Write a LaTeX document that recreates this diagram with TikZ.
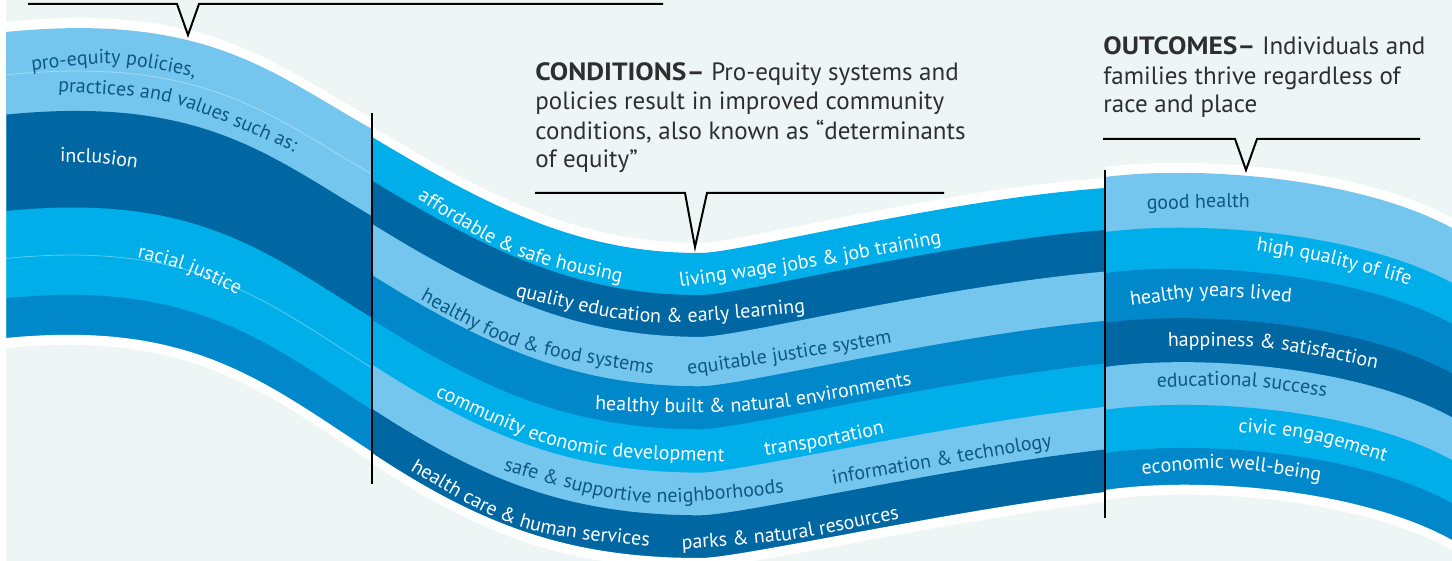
\documentclass[tikz,border=0pt]{standalone}
\usepackage{fontspec}
\setmainfont{PT Sans}
\usetikzlibrary{calc,decorations.text}
\definecolor{bgc}{HTML}{EEF6F5}
\definecolor{cLight}{HTML}{75C6EE}
\definecolor{cBright}{HTML}{00AFEA}
\definecolor{cMed}{HTML}{0088CA}
\definecolor{cDark}{HTML}{0067A2}
\definecolor{txtDark}{HTML}{0E5784}
\definecolor{hdrc}{HTML}{2E2E2E}
\newcommand\lblfont{\fontsize{10}{12}\selectfont}
\newcommand\hdrfont{\fontsize{12.5}{15}\selectfont}
\newcommand\hb[1]{\scalebox{1.1}[1]{\textbf{#1}}}
% boundary curve at fraction #2 between top and bottom of section #1
\newcommand\bndA[2]{($(#1T0)!#2!(#1B0)$) .. controls ($(#1T1)!#2!(#1B1)$) and ($(#1T2)!#2!(#1B2)$) .. ($(#1T3)!#2!(#1B3)$)}
\newcommand\bndB[2]{($(#1T0)!#2!(#1B0)$) .. controls ($(#1T1)!#2!(#1B1)$) and ($(#1T2)!#2!(#1B2)$) .. ($(#1T3)!#2!(#1B3)$) .. controls ($(#1T4)!#2!(#1B4)$) and ($(#1T5)!#2!(#1B5)$) .. ($(#1T6)!#2!(#1B6)$)}
% fill everything below a boundary
\newcommand\stripe[4]{\fill[#3] #1{#2}{#4} -- ++(0,700) -| (#2T0) -- cycle;}
% curved label: colour, start, middle, end, text
\newcommand\lab[5]{%
  \coordinate (lc) at ($1.3333*(#3)-0.16667*(#2)-0.16667*(#4)$);
  \path[decorate,decoration={text along path,text color=#1,text={|\lblfont|#5}}]
    (#2) .. controls (lc) .. (#4) -- ($(#4)!-60pt!(lc)$);}
\begin{document}
\begin{tikzpicture}[x=0.5pt,y=-0.5pt,
  faint/.style={draw=white,opacity=0.35,line width=0.4pt},
  sepline/.style={draw=black,line width=1.3pt},
  callout/.style={draw=black,line width=1pt,line join=miter},
  hdr/.style={anchor=base west,inner sep=0pt,font=\hdrfont,text=hdrc}]
\useasboundingbox (0,0) rectangle (1452,561);
\fill[white] (0,0) rectangle (1452,561);
\fill[bgc] (6,0) rectangle (1452,561);
% ---- section geometry
\coordinate (LT0) at (6,32);   \coordinate (LT1) at (206,12);  \coordinate (LT2) at (272,73);  \coordinate (LT3) at (372,129);
\coordinate (LB0) at (6,338);  \coordinate (LB1) at (190,320); \coordinate (LB2) at (262,380); \coordinate (LB3) at (372,452);
\coordinate (MT0) at (372,137); \coordinate (MT1) at (492,209); \coordinate (MT2) at (580,253); \coordinate (MT3) at (700,253);
\coordinate (MT4) at (740,253); \coordinate (MT5) at (940,200); \coordinate (MT6) at (1105,188);
\coordinate (MB0) at (372,453); \coordinate (MB1) at (482,526); \coordinate (MB2) at (570,558); \coordinate (MB3) at (700,558);
\coordinate (MB4) at (740,558); \coordinate (MB5) at (940,512); \coordinate (MB6) at (1105,492);
\coordinate (RT0) at (1105,177); \coordinate (RT1) at (1200,165); \coordinate (RT2) at (1360,178); \coordinate (RT3) at (1452,228);
\coordinate (RB0) at (1105,490); \coordinate (RB1) at (1200,476); \coordinate (RB2) at (1360,489); \coordinate (RB3) at (1452,540);
% ---- left section
\begin{scope}
\clip (6,0) rectangle (372,561);
\stripe\bndA{L}{white}{-0.033}
\stripe\bndA{L}{cLight}{0}
\stripe\bndA{L}{cDark}{0.27}
\stripe\bndA{L}{cBright}{0.585}
\stripe\bndA{L}{cMed}{0.87}
\stripe\bndA{L}{white}{1}
\stripe\bndA{L}{bgc}{1.033}
\draw[faint] \bndA{L}{0.14};
\draw[faint] \bndA{L}{0.74};
\end{scope}
% ---- middle section
\begin{scope}
\clip (372,0) rectangle (1105,561);
\stripe\bndB{M}{white}{-0.033}
\stripe\bndB{M}{cBright}{0}
\stripe\bndB{M}{cDark}{0.138}
\stripe\bndB{M}{cLight}{0.275}
\stripe\bndB{M}{cMed}{0.437}
\stripe\bndB{M}{cBright}{0.578}
\stripe\bndB{M}{cLight}{0.72}
\stripe\bndB{M}{cDark}{0.86}
\stripe\bndB{M}{white}{1}
\stripe\bndB{M}{bgc}{1.033}
\end{scope}
% ---- right section
\begin{scope}
\clip (1105,0) rectangle (1452,561);
\stripe\bndA{R}{white}{-0.032}
\stripe\bndA{R}{cLight}{0}
\stripe\bndA{R}{cBright}{0.176}
\stripe\bndA{R}{cMed}{0.307}
\stripe\bndA{R}{cDark}{0.466}
\stripe\bndA{R}{cLight}{0.607}
\stripe\bndA{R}{cBright}{0.744}
\stripe\bndA{R}{cMed}{0.882}
\stripe\bndA{R}{white}{1}
\stripe\bndA{R}{bgc}{1.032}
\end{scope}
% ---- separators
\coordinate (s1a) at (372,113); \coordinate (s1b) at (372,484);
\coordinate (s2a) at (1105,170); \coordinate (s2b) at (1105,518);
\draw[sepline] (s1a) -- (s1b);
\draw[sepline] (s2a) -- (s2b);
% ---- callout brackets
\coordinate (k1a) at (28,4); \coordinate (k1b) at (177,4); \coordinate (k1t) at (188,35); \coordinate (k1c) at (199,4); \coordinate (k1d) at (663,4);
\draw[callout] (k1a) -- (k1b) -- (k1t) -- (k1c) -- (k1d);
\coordinate (k2a) at (535,193); \coordinate (k2b) at (685,193); \coordinate (k2t) at (695,247); \coordinate (k2c) at (707,193); \coordinate (k2d) at (944,193);
\draw[callout] (k2a) -- (k2b) -- (k2t) -- (k2c) -- (k2d);
\coordinate (k3a) at (1103,139); \coordinate (k3b) at (1235,139); \coordinate (k3t) at (1246,170); \coordinate (k3c) at (1257,139); \coordinate (k3d) at (1420,139);
\draw[callout] (k3a) -- (k3b) -- (k3t) -- (k3c) -- (k3d);
% ---- headers
\node[hdr] (c1) at (535,81)  {\hb{CONDITIONS–} Pro-equity systems and};
\node[hdr] (c2) at (535,110) {policies result in improved community};
\node[hdr] (c3) at (535,140) {conditions, also known as “determinants};
\node[hdr] (c4) at (535,168) {of equity”};
\node[hdr] (o1) at (1103,55)  {\hb{OUTCOMES–} Individuals and};
\node[hdr] (o2) at (1103,85)  {families thrive regardless of};
\node[hdr] (o3) at (1103,113) {race and place};
% ---- left labels
\lab{txtDark}{32,71}{112,64}{195,77}{pro-equity policies,}
\lab{txtDark}{58,92}{170,103}{285,148}{practices and values such as:}
\lab{white}{60,162}{97,163}{135,168}{inclusion}
\lab{white}{137,258}{183,270}{232,292}{racial justice}
% ---- middle labels
\lab{white}{417,199}{515,255}{620,282}{affordable {\&} safe housing}
\lab{white}{680,287}{808,268}{937,244}{living wage jobs {\&} job training}
\lab{white}{515,296}{650,322}{805,312}{quality education {\&} early learning}
\lab{txtDark}{420,300}{520,348}{647,373}{healthy food {\&} food systems}
\lab{txtDark}{688,375}{790,360}{893,343}{equitable justice system}
\lab{white}{595,410}{750,411}{908,386}{healthy built {\&} natural environments}
\lab{white}{435,396}{570,450}{735,462}{community economic development}
\lab{white}{765,455}{826,446}{887,433}{transportation}
\lab{txtDark}{503,470}{640,502}{792,492}{safe {\&} supportive neighborhoods}
\lab{txtDark}{833,484}{940,466}{1050,447}{information {\&} technology}
\lab{white}{410,470}{520,527}{648,546}{health care {\&} human services}
\lab{white}{682,549}{790,540}{897,519}{parks {\&} natural resources}
% ---- right labels
\lab{txtDark}{1147,210}{1198,208}{1251,208}{good health}
\lab{white}{1256,251}{1330,264}{1406,284}{high quality of life}
\lab{white}{1131,306}{1210,297}{1290,302}{healthy years lived}
\lab{white}{1168,347}{1265,348}{1370,367}{happiness {\&} satisfaction}
\lab{txtDark}{1157,388}{1240,386}{1323,396}{educational success}
\lab{white}{1238,432}{1310,440}{1386,462}{civic engagement}
\lab{white}{1142,474}{1230,469}{1320,481}{economic well-being}
\end{tikzpicture}
\end{document}
